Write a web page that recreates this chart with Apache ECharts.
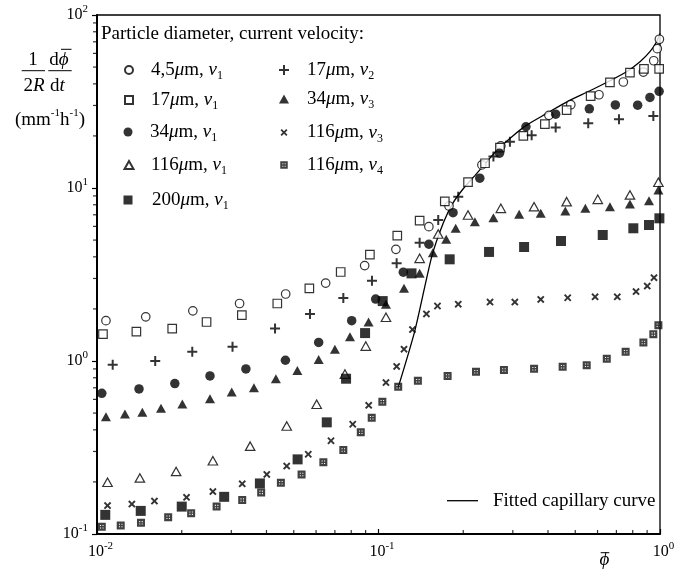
<!DOCTYPE html>
<html><head><meta charset="utf-8">
<script src="https://cdn.jsdelivr.net/npm/echarts@6/dist/echarts.min.js"></script>
<style>html,body{margin:0;padding:0;background:#fff}#c{width:685px;height:572px}</style>
</head><body><div id="c"></div>
<script>
// ---- tick values ----
const xMinorTicks = [0.02,0.03,0.04,0.05,0.06,0.07,0.08,0.09,0.2,0.3,0.4,0.5,0.6,0.7,0.8,0.9];
const yMinorTicks = [0.2,0.3,0.4,0.5,0.6,0.7,0.8,0.9,2,3,4,5,6,7,8,9,20,30,40,50,60,70,80,90];

// ---- series values [phi, rate] ----
const d45v1 = [[0.01076,1.71],[0.0149,1.80],[0.0219,1.95],[0.0321,2.15],[0.0468,2.44],[0.0649,2.82],[0.0893,3.56],[0.1153,4.42],[0.151,5.98],[0.178,7.87],[0.233,13.6],[0.272,17.5],[0.403,26.3],[0.482,30.3],[0.607,34.6],[0.741,41.0],[0.873,46.8],[0.950,54.4],[0.978,63.9],[0.995,72.4]];
const d17v1 = [[0.0105,1.43],[0.0138,1.48],[0.0185,1.54],[0.0245,1.68],[0.0327,1.84],[0.0437,2.15],[0.0568,2.63],[0.0734,3.27],[0.0932,4.12],[0.1166,5.30],[0.140,6.47],[0.172,8.38],[0.208,10.8],[0.239,13.9],[0.270,17.1],[0.327,20.0],[0.390,23.4],[0.466,28.2],[0.567,34.0],[0.664,40.8],[0.782,46.4],[0.877,48.8],[0.993,48.8]];
const d34v1 = [[0.0104,0.65],[0.0141,0.69],[0.0189,0.74],[0.0252,0.82],[0.0338,0.90],[0.0467,1.01],[0.0613,1.28],[0.0803,1.71],[0.0977,2.28],[0.1225,3.26],[0.151,4.73],[0.184,7.20],[0.229,11.4],[0.269,15.9],[0.334,22.6],[0.426,26.7],[0.561,28.7],[0.694,30.2],[0.833,30.1],[0.921,33.4],[0.993,36.2]];
const d116v1 = [[0.0109,0.199],[0.0142,0.211],[0.0191,0.230],[0.0258,0.265],[0.0350,0.322],[0.0472,0.421],[0.0603,0.562],[0.0760,0.84],[0.0901,1.22],[0.1063,1.79],[0.140,3.92],[0.163,5.42],[0.208,6.98],[0.272,7.63],[0.357,7.80],[0.466,8.34],[0.601,8.60],[0.782,9.12],[0.987,10.8]];
const d200v1 = [[0.0107,0.129],[0.0143,0.136],[0.0200,0.144],[0.0283,0.164],[0.0379,0.196],[0.0516,0.270],[0.0655,0.442],[0.0767,0.79],[0.0896,1.45],[0.1035,2.22],[0.131,3.21],[0.179,3.87],[0.247,4.27],[0.329,4.56],[0.445,4.94],[0.626,5.35],[0.804,5.85],[0.914,6.11],[0.995,6.68]];
const d17v2 = [[0.01137,0.95],[0.0161,1.0],[0.0218,1.13],[0.0303,1.21],[0.0429,1.54],[0.0571,1.87],[0.075,2.31],[0.0948,2.91],[0.116,3.67],[0.140,4.83],[0.163,6.53],[0.192,8.91],[0.256,15.2],[0.293,18.5],[0.350,20.2],[0.426,22.4],[0.556,23.7],[0.715,25.0],[0.947,26.1]];
const d34v3 = [[0.01076,0.476],[0.01257,0.494],[0.01449,0.505],[0.01688,0.533],[0.0201,0.564],[0.0252,0.606],[0.0301,0.662],[0.0361,0.701],[0.0432,0.79],[0.0515,0.88],[0.0613,1.02],[0.070,1.17],[0.0792,1.38],[0.0922,1.68],[0.1063,2.13],[0.1232,2.63],[0.140,3.21],[0.156,4.23],[0.174,5.05],[0.188,5.85],[0.220,6.39],[0.256,6.73],[0.316,7.05],[0.377,7.14],[0.461,7.36],[0.543,7.63],[0.664,7.80],[0.782,8.08],[0.914,8.45],[0.987,9.73]];
const d116v3 = [[0.0109,0.146],[0.0133,0.149],[0.016,0.155],[0.0208,0.163],[0.0258,0.176],[0.0328,0.195],[0.0401,0.221],[0.0472,0.247],[0.0563,0.289],[0.0678,0.346],[0.081,0.431],[0.0923,0.554],[0.1063,0.75],[0.116,0.93],[0.1232,1.17],[0.132,1.52],[0.148,1.87],[0.162,2.08],[0.192,2.13],[0.249,2.19],[0.305,2.19],[0.377,2.27],[0.470,2.32],[0.588,2.35],[0.705,2.35],[0.822,2.52],[0.901,2.71],[0.952,3.03]];
const d116v4 = [[0.0104,0.110],[0.01214,0.112],[0.01433,0.116],[0.0179,0.125],[0.0216,0.132],[0.0266,0.144],[0.0328,0.157],[0.0383,0.174],[0.0450,0.198],[0.0533,0.221],[0.0637,0.260],[0.075,0.306],[0.0865,0.387],[0.0946,0.470],[0.1032,0.582],[0.1175,0.710],[0.138,0.769],[0.176,0.819],[0.222,0.867],[0.279,0.887],[0.357,0.903],[0.451,0.927],[0.549,0.944],[0.647,1.03],[0.755,1.13],[0.873,1.28],[0.947,1.43],[0.987,1.61]];
const fitCurve = [[0.1175,0.705],[0.1348,1.51],[0.1545,4.0],[0.170,6.3],[0.184,8.2],[0.200,9.9],[0.220,11.8],[0.241,14.0],[0.263,16.5],[0.300,20.0],[0.336,23.1],[0.396,27.0],[0.472,31.8],[0.564,36.5],[0.664,41.7],[0.761,47.0],[0.849,53.7],[0.921,61.4],[0.973,70.1],[1.0,78.3]];

const FONT = '"Liberation Serif","Times New Roman",serif';
const legendText = {
  '4,5μm, v1': '{n|4,5}{i|μ}{n|m, }{i|v}{sub|1}',
  '17μm, v1': '{n|17}{i|μ}{n|m, }{i|v}{sub|1}',
  '34μm, v1': '{n|34}{i|μ}{n|m, }{i|v}{sub|1}',
  '116μm, v1': '{n|116}{i|μ}{n|m, }{i|v}{sub|1}',
  '200μm, v1': '{n|200}{i|μ}{n|m, }{i|v}{sub|1}',
  '17μm, v2': '{n|17}{i|μ}{n|m, }{i|v}{sub|2}',
  '34μm, v3': '{n|34}{i|μ}{n|m, }{i|v}{sub|3}',
  '116μm, v3': '{n|116}{i|μ}{n|m, }{i|v}{sub|3}',
  '116μm, v4': '{n|116}{i|μ}{n|m, }{i|v}{sub|4}',
  'Fitted capillary curve': '{n|Fitted capillary curve}'
};

const holedSq = 'path://M0,0H10V10H0Z M2.8,2.8V4.1H4.1V2.8Z M5.9,2.8V4.1H7.2V2.8Z M2.8,5.9V7.2H4.1V5.9Z M5.9,5.9V7.2H7.2V5.9Z';
const plusP = 'path://M4,0H6V4H10V6H6V10H4V6H0V4H4Z';
const crossP = 'path://M0,1.8L1.8,0L5,3.2L8.2,0L10,1.8L6.8,5L10,8.2L8.2,10L5,6.8L1.8,10L0,8.2L3.2,5Z';

const markerDefs = [
  {name:'4,5μm, v1', data:d45v1, symbol:'circle', size:8.5, open:true, leg:[128,70,8,8,150]},
  {name:'17μm, v1', data:d17v1, symbol:'rect', size:8.5, open:true, leg:[128,100,8,8,150]},
  {name:'34μm, v1', data:d34v1, symbol:'circle', size:9.5, open:false, leg:[128,132,9,9,150]},
  {name:'116μm, v1', data:d116v1, symbol:'triangle', size:[9.5,8.5], open:true, leg:[128,165,9,8,150]},
  {name:'17μm, v2', data:d17v2, symbol:plusP, size:10, open:false, leg:[284,70,10,10,307]},
  {name:'34μm, v3', data:d34v3, symbol:'triangle', size:[10,9], open:false, leg:[284,99,10,9,307]},
  {name:'200μm, v1', data:d200v1, symbol:'rect', size:10, open:false, leg:[128,200,9,9,152]},
  {name:'116μm, v3', data:d116v3, symbol:crossP, size:7.5, open:false, leg:[284,132.5,7,7,307]},
  {name:'116μm, v4', data:d116v4, symbol:holedSq, size:8, open:false, leg:[284,165,7.5,7.5,307], color:'#111'}
];

const richLeg = {
  n: {fontFamily: FONT, fontSize: 19, lineHeight: 24, verticalAlign: 'middle', color: '#000'},
  i: {fontFamily: FONT, fontSize: 19, fontStyle: 'italic', lineHeight: 24, verticalAlign: 'middle', color: '#000'},
  sub: {fontFamily: FONT, fontSize: 12, lineHeight: 12, verticalAlign: 'bottom', color: '#000'}
};
const richTick = {
  b: {fontFamily: FONT, fontSize: 16, lineHeight: 22, verticalAlign: 'middle', color: '#000'},
  bp: {fontFamily: FONT, fontSize: 16, lineHeight: 22, verticalAlign: 'middle', color: '#000', padding: [0,0,0,7]},
  s: {fontFamily: FONT, fontSize: 11, lineHeight: 12, verticalAlign: 'top', color: '#000'}
};
const expOf = v => Math.round(Math.log10(v));

const series = [];
series.push({
  type: 'line', name: 'Fitted capillary curve', data: fitCurve, symbol: 'none', smooth: 0.25,
  lineStyle: {color: '#000', width: 1.3}, itemStyle: {color: '#000'}, z: 2, silent: true
});
markerDefs.forEach(m => {
  series.push({
    type: 'scatter', name: m.name, data: m.data, symbol: m.symbol, symbolSize: m.size,
    itemStyle: m.open ? {color: '#fff', borderColor: '#000', borderWidth: 1.2}
                      : {color: m.color || '#000', borderWidth: 0},
    z: 3, silent: true
  });
});
series.push({
  type: 'scatter', name: '_xminor', data: xMinorTicks.map(v => [v, 0.1]), symbol: 'rect',
  symbolSize: [1.2, 4], symbolOffset: [0, -2], itemStyle: {color: '#000'}, clip: false, silent: true, z: 6
});
series.push({
  type: 'scatter', name: '_yminor', data: yMinorTicks.map(v => [0.01, v]), symbol: 'rect',
  symbolSize: [4, 1.2], symbolOffset: [-2, 0], itemStyle: {color: '#000'}, clip: false, silent: true, z: 6
});

const legends = markerDefs.map(m => {
  const [cx, cy, w, h, tx] = m.leg;
  return {
    data: [m.name], left: cx - w / 2, top: cy - 12, itemWidth: w, itemHeight: h, padding: 0,
    selectedMode: false, formatter: name => legendText[name],
    textStyle: {rich: richLeg, fontFamily: FONT, fontSize: 19, lineHeight: 24, color: '#000',
                padding: [0, 0, 0, tx - (cx + w / 2 + 5)]}
  };
});
legends.push({
  data: [{name: 'Fitted capillary curve', icon: 'rect'}], left: 447, top: 500.7 - 12, itemWidth: 31, itemHeight: 1.3,
  padding: 0, selectedMode: false, formatter: name => legendText[name],
  itemStyle: {color: '#000'},
  textStyle: {rich: richLeg, fontFamily: FONT, fontSize: 19, lineHeight: 24, color: '#000', padding: [0, 0, 0, 10]}
});

const richTitle = {
  n: {fontFamily: FONT, fontSize: 19, lineHeight: 24, verticalAlign: 'middle', color: '#000'},
  i: {fontFamily: FONT, fontSize: 19, fontStyle: 'italic', lineHeight: 24, verticalAlign: 'middle', color: '#000'},
  s: {fontFamily: FONT, fontSize: 11, lineHeight: 12, verticalAlign: 'top', color: '#000'}
};
function gText(x, y, text, align) {
  return {type: 'text', x: x, y: y, z: 100, silent: true,
    style: {text: text, rich: richTitle, fontFamily: FONT, fontSize: 19, fill: '#000',
            align: align || 'center', verticalAlign: 'middle'}};
}
function gLine(x1, y1, x2, y2) {
  return {type: 'line', z: 100, silent: true, shape: {x1, y1, x2, y2}, style: {stroke: '#000', lineWidth: 1}};
}

const option = {
  animation: false,
  backgroundColor: '#fff',
  grid: {left: 97, right: 25, top: 15, bottom: 38, show: true, borderColor: '#000', borderWidth: 1.3, backgroundColor: 'transparent'},
  xAxis: {
    type: 'log', logBase: 10, min: 0.01, max: 1,
    axisLine: {lineStyle: {color: '#000', width: 2}},
    axisTick: {inside: true, length: 5, lineStyle: {color: '#000', width: 1.2}},
    splitLine: {show: false},
    axisLabel: {margin: 7, formatter: v => '{bp|10}{s|' + expOf(v) + '}', rich: richTick}
  },
  yAxis: {
    type: 'log', logBase: 10, min: 0.1, max: 100,
    axisLine: {lineStyle: {color: '#000', width: 2}},
    axisTick: {inside: false, length: 5, lineStyle: {color: '#000', width: 1.2}},
    splitLine: {show: false},
    axisLabel: {margin: 9, formatter: v => '{b|10}{s|' + expOf(v) + '}', rich: richTick}
  },
  legend: legends,
  series: series,
  graphic: [
    gText(101, 33.6, '{n|Particle diameter, current velocity:}', 'left'),
    gText(33, 60, '{n|1}'),
    gLine(21.7, 70.7, 45, 70.7),
    gText(34, 86, '{n|2}{i|R}'),
    gText(59, 60, '{n|d}{i|ϕ}'),
    gLine(61, 49.3, 71.5, 49.3),
    gLine(48.3, 70.7, 71.7, 70.7),
    gText(57.5, 86, '{n|d}{i|t}'),
    gText(50, 120, '{n|(mm}{s|-1}{n|h}{s|-1}{n|)}'),
    gText(604.5, 559.5, '{i|ϕ}'),
    gLine(600.7, 552.7, 609.3, 552.7)
  ]
};
const chart = echarts.init(document.getElementById('c'));
chart.setOption(option);
</script>
</body></html>
